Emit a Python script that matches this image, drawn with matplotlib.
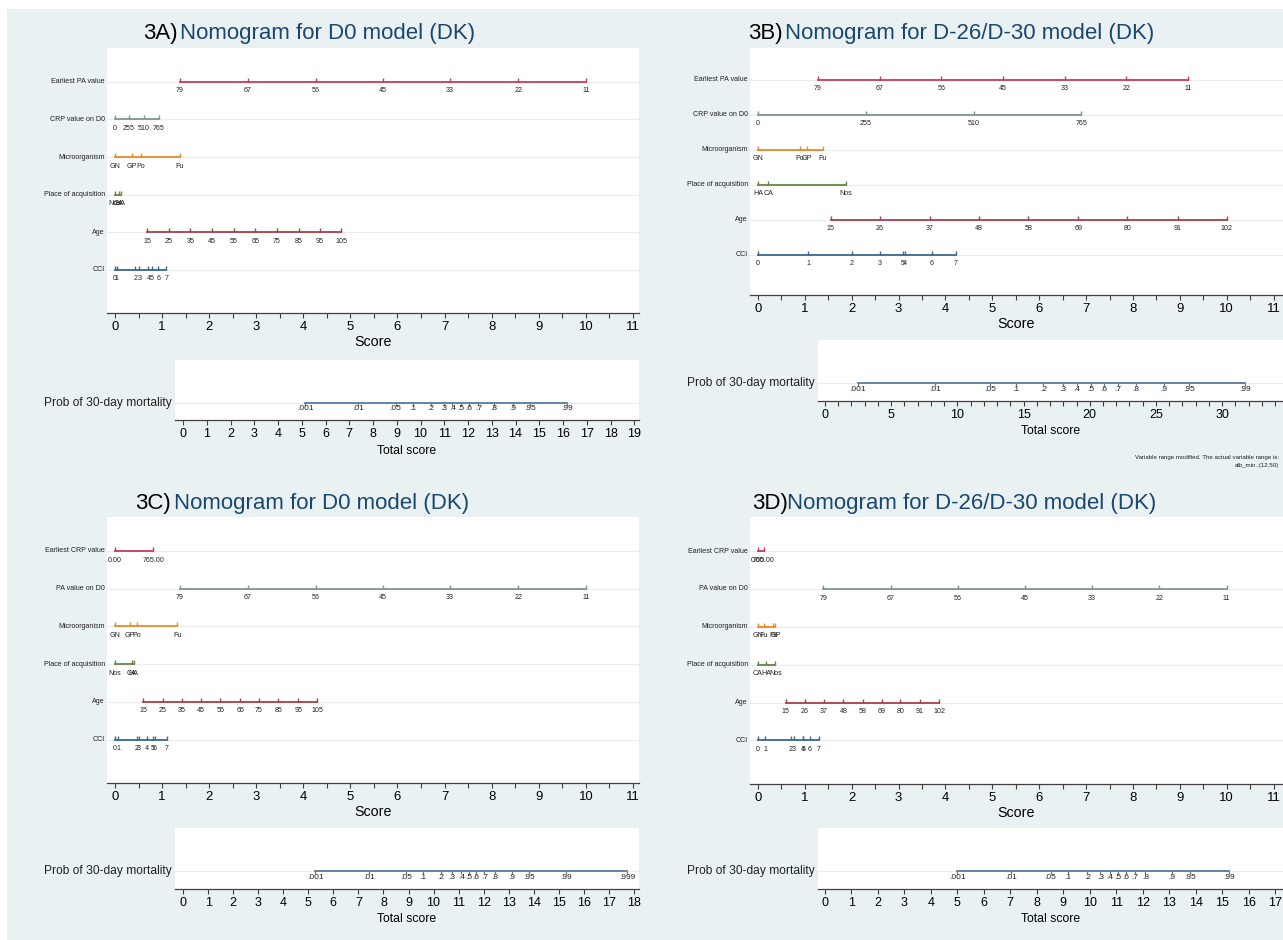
import matplotlib
matplotlib.use('Agg')
import matplotlib.pyplot as plt
from matplotlib import font_manager
from matplotlib.patches import Rectangle
from matplotlib.ticker import MultipleLocator
from matplotlib.transforms import blended_transform_factory

W, H = 1283, 940

installed = {f.name for f in font_manager.fontManager.ttflist}
if 'Liberation Sans Narrow' in installed:
    FONT, SCALE = 'Liberation Sans Narrow', 1.0
else:
    FONT, SCALE = 'Liberation Sans', 0.82
plt.rcParams['font.family'] = [FONT, 'DejaVu Sans']

BG = '#e9f1f3'
NAVY = '#1a476f'
AXIS = '#404040'
GRID = '#ececec'
ROW_COLORS = ['#c9395c', '#7d978d', '#e8892a', '#658545', '#a63f4a', '#3b6690']
PROB_COLOR = '#5b7b98'

# ---- nomogram scales (label, score point) ----
names_pa_first = ['Earliest PA value', 'CRP value on D0', 'Microorganism',
                  'Place of acquisition', 'Age', 'CCI']
names_crp_first = ['Earliest CRP value', 'PA value on D0', 'Microorganism',
                   'Place of acquisition', 'Age', 'CCI']

pa_labels = ['79', '67', '56', '45', '33', '22', '11']
crp_labels = ['0', '255', '510', '765']
crp_labels_2dp = ['0.00', '765.00']
age_labels_a = ['15', '25', '35', '45', '55', '65', '75', '85', '95', '105']
age_labels_b = ['15', '26', '37', '48', '58', '69', '80', '91', '102']
prob_labels = ['.001', '.01', '.05', '.1', '.2', '.3', '.4', '.5', '.6', '.7',
               '.8', '.9', '.95', '.99']
prob_labels_c = prob_labels + ['.999']

# 3A
pa_pts_a = [1.38, 2.82, 4.26, 5.69, 7.12, 8.57, 10.0]
crp_pts_a = [0, 0.30, 0.62, 0.93]
micro_labels_a = ['GN', 'GP', 'Po', 'Fu']
micro_pts_a = [0, 0.36, 0.55, 1.38]
place_labels_a = ['Nos', 'CA', 'HA']
place_pts_a = [0, 0.08, 0.12]
age_pts_a = [0.68, 1.14, 1.60, 2.06, 2.52, 2.98, 3.44, 3.90, 4.35, 4.81]
cci_labels_a = ['0', '1', '2', '3', '4', '5', '6', '7']
cci_pts_a = [0, 0.035, 0.43, 0.52, 0.71, 0.78, 0.92, 1.09]
prob_pts_a = [5.15, 7.37, 8.95, 9.67, 10.45, 10.98, 11.34, 11.7, 12.04, 12.43,
              13.08, 13.9, 14.6, 16.16]

# 3B
pa_pts_b = [1.28, 2.60, 3.91, 5.23, 6.54, 7.86, 9.17]
crp_pts_b = [0, 2.30, 4.60, 6.90]
micro_labels_b = ['GN', 'Po', 'GP', 'Fu']
micro_pts_b = [0, 0.90, 1.05, 1.38]
place_labels_b = ['HA', 'CA', 'Nos']
place_pts_b = [0, 0.22, 1.88]
age_pts_b = [1.55, 2.60, 3.66, 4.72, 5.77, 6.83, 7.88, 8.95, 10.0]
cci_labels_b = ['0', '1', '2', '3', '5', '4', '6', '7']
cci_pts_b = [0, 1.07, 2.0, 2.60, 3.09, 3.14, 3.71, 4.22]
prob_pts_b = [2.47, 8.3, 12.5, 14.4, 16.5, 17.95, 19.0, 20.06, 21.05, 22.1,
              23.5, 25.6, 27.5, 31.7]

# 3C
crp_pts_c = [0, 0.81]
pa_pts_c = [1.38, 2.82, 4.26, 5.69, 7.12, 8.57, 10.0]
micro_labels_c = ['GN', 'GP', 'Po', 'Fu']
micro_pts_c = [0, 0.32, 0.47, 1.32]
place_labels_c = ['Nos', 'CA', 'HA']
place_pts_c = [0, 0.36, 0.40]
age_pts_c = [0.60, 1.02, 1.42, 1.83, 2.24, 2.66, 3.06, 3.47, 3.89, 4.30]
cci_labels_c = ['0', '1', '2', '3', '4', '5', '6', '7']
cci_pts_c = [0, 0.07, 0.46, 0.51, 0.68, 0.80, 0.85, 1.10]
prob_pts_c = [5.28, 7.43, 8.9, 9.58, 10.28, 10.74, 11.11, 11.41, 11.7, 12.03,
              12.44, 13.12, 13.82, 15.3, 17.72]

# 3D
crp_pts_d = [0, 0.13]
pa_pts_d = [1.39, 2.83, 4.26, 5.70, 7.13, 8.56, 10.0]
micro_labels_d = ['GN', 'Fu', 'Po', 'GP']
micro_pts_d = [0, 0.12, 0.33, 0.37]
place_labels_d = ['CA', 'HA', 'Nos']
place_pts_d = [0, 0.17, 0.37]
age_pts_d = [0.59, 1.0, 1.41, 1.82, 2.23, 2.64, 3.04, 3.45, 3.87]
cci_labels_d = ['0', '1', '2', '3', '4', '5', '6', '7']
cci_pts_d = [0, 0.15, 0.70, 0.77, 0.96, 0.97, 1.11, 1.30]
prob_pts_d = [5.0, 7.02, 8.52, 9.18, 9.91, 10.4, 10.76, 11.06, 11.37, 11.71,
              12.1, 13.1, 13.8, 15.25]


def box(left, top, right, bottom):
    return [left / W, 1 - bottom / H, (right - left) / W, (bottom - top) / H]


def style_axis(ax, major, minor, labelsize):
    for side in ('top', 'left', 'right'):
        ax.spines[side].set_visible(False)
    ax.spines['bottom'].set_color(AXIS)
    ax.spines['bottom'].set_linewidth(0.9)
    ax.set_yticks([])
    ax.xaxis.set_major_locator(MultipleLocator(major))
    ax.xaxis.set_minor_locator(MultipleLocator(minor))
    ax.tick_params(axis='x', which='both', direction='out', length=3.5,
                   width=0.8, color=AXIS, pad=2, labelsize=labelsize * SCALE)


def draw_scores(fig, rect, xlim, rows):
    ax = fig.add_axes(box(*rect))
    ax.set_facecolor('white')
    ax.set_xlim(*xlim)
    ax.set_ylim(6.15, -0.9)
    style_axis(ax, 1, 0.5, 11.5)
    ax.set_xlabel('Score', fontsize=12.5 * SCALE, labelpad=1.5)
    trans = blended_transform_factory(ax.transAxes, ax.transData)
    for i, (name, labels, pts) in enumerate(rows):
        c = ROW_COLORS[i]
        ax.axhline(i, color=GRID, lw=0.8, zorder=1)
        ax.plot([min(pts), max(pts)], [i, i], color=c, lw=1.3, zorder=3)
        ax.plot(pts, [i] * len(pts), ls='none', marker=2, ms=3.2, mew=1.0,
                color=c, zorder=3)
        for lab, p in zip(labels, pts):
            ax.annotate(lab, (p, i), xytext=(0, -4), textcoords='offset points',
                        ha='center', va='top', fontsize=6.3 * SCALE, color='#222222')
        ax.text(-0.004, i, name, transform=trans, ha='right', va='center',
                fontsize=6.3 * SCALE, color='#222222')
    return ax


def draw_prob(fig, rect, xlim, labels, pts, major):
    ax = fig.add_axes(box(*rect))
    ax.set_facecolor('white')
    ax.set_xlim(*xlim)
    ax.set_ylim(0, 1)
    style_axis(ax, major, 1, 11)
    ax.set_xlabel('Total score', fontsize=10.8 * SCALE, labelpad=3.5)
    y = 0.29
    ax.axhline(y, color=GRID, lw=0.8, zorder=1)
    ax.plot([pts[0], pts[-1]], [y, y], color=PROB_COLOR, lw=1.3, zorder=3)
    ax.plot(pts, [y] * len(pts), ls='none', marker=3, ms=2.5, mew=0.9,
            color=PROB_COLOR, zorder=3)
    for lab, p in zip(labels, pts):
        ax.annotate(lab, (p, y), xytext=(0, -2), textcoords='offset points',
                    ha='center', va='top', fontsize=7.3 * SCALE, color='#222222')
    trans = blended_transform_factory(ax.transAxes, ax.transData)
    ax.text(-0.006, y, 'Prob of 30-day mortality', transform=trans, ha='right',
            va='center', fontsize=10.5 * SCALE, color='#222222')
    return ax


def draw_title(fig, tag, text, tag_x, text_x, y):
    fig.text(tag_x / W, 1 - y / H, tag, fontsize=19.5 * SCALE, color='black',
             ha='left', va='center')
    fig.text(text_x / W, 1 - y / H, text, fontsize=19.5 * SCALE, color=NAVY,
             ha='left', va='center')


fig = plt.figure(figsize=(W / 100, H / 100), dpi=100)
fig.patch.set_facecolor('white')
fig.add_artist(Rectangle((7 / W, 0), 1 - 7 / W, 1 - 9 / H, transform=fig.transFigure,
                         facecolor=BG, edgecolor='none', zorder=-1))

rows_a = [
    (names_pa_first[0], pa_labels, pa_pts_a),
    (names_pa_first[1], crp_labels, crp_pts_a),
    (names_pa_first[2], micro_labels_a, micro_pts_a),
    (names_pa_first[3], place_labels_a, place_pts_a),
    (names_pa_first[4], age_labels_a, age_pts_a),
    (names_pa_first[5], cci_labels_a, cci_pts_a),
]
rows_b = [
    (names_pa_first[0], pa_labels, pa_pts_b),
    (names_pa_first[1], crp_labels, crp_pts_b),
    (names_pa_first[2], micro_labels_b, micro_pts_b),
    (names_pa_first[3], place_labels_b, place_pts_b),
    (names_pa_first[4], age_labels_b, age_pts_b),
    (names_pa_first[5], cci_labels_b, cci_pts_b),
]
rows_c = [
    (names_crp_first[0], crp_labels_2dp, crp_pts_c),
    (names_crp_first[1], pa_labels, pa_pts_c),
    (names_crp_first[2], micro_labels_c, micro_pts_c),
    (names_crp_first[3], place_labels_c, place_pts_c),
    (names_crp_first[4], age_labels_a, age_pts_c),
    (names_crp_first[5], cci_labels_c, cci_pts_c),
]
rows_d = [
    (names_crp_first[0], crp_labels_2dp, crp_pts_d),
    (names_crp_first[1], pa_labels, pa_pts_d),
    (names_crp_first[2], micro_labels_d, micro_pts_d),
    (names_crp_first[3], place_labels_d, place_pts_d),
    (names_crp_first[4], age_labels_b, age_pts_d),
    (names_crp_first[5], cci_labels_d, cci_pts_d),
]

# 3A
draw_title(fig, '3A)', 'Nomogram for D0 model (DK)', 143, 180, 33)
draw_scores(fig, (107, 48, 639, 313), (-0.17, 11.13), rows_a)
draw_prob(fig, (175, 360, 639, 420), (-0.34, 19.2), prob_labels, prob_pts_a, 1)

# 3B
draw_title(fig, '3B)', 'Nomogram for D-26/D-30 model (DK)', 748, 785, 33)
draw_scores(fig, (750, 48, 1283, 295), (-0.17, 11.2), rows_b)
draw_prob(fig, (818, 340, 1283, 401), (-0.53, 34.6), prob_labels, prob_pts_b, 5)
fig.text(1279 / W, 1 - 457 / H,
         'Variable range modified. The actual variable range is:',
         ha='right', va='center', fontsize=5.4 * SCALE, color='#222222')
fig.text(1279 / W, 1 - 465 / H, 'alb_min..(12,50)',
         ha='right', va='center', fontsize=5.4 * SCALE, color='#222222')

# 3C
draw_title(fig, '3C)', 'Nomogram for D0 model (DK)', 135, 174, 503)
draw_scores(fig, (107, 517, 639, 783), (-0.17, 11.13), rows_c)
draw_prob(fig, (175, 828, 639, 889), (-0.32, 18.2), prob_labels_c, prob_pts_c, 1)

# 3D
draw_title(fig, '3D)', 'Nomogram for D-26/D-30 model (DK)', 752, 787, 503)
draw_scores(fig, (750, 517, 1283, 784), (-0.17, 11.2), rows_d)
draw_prob(fig, (818, 828, 1283, 889), (-0.26, 17.3), prob_labels, prob_pts_d, 1)

fig.savefig('out.png', dpi=100, facecolor=fig.get_facecolor())
